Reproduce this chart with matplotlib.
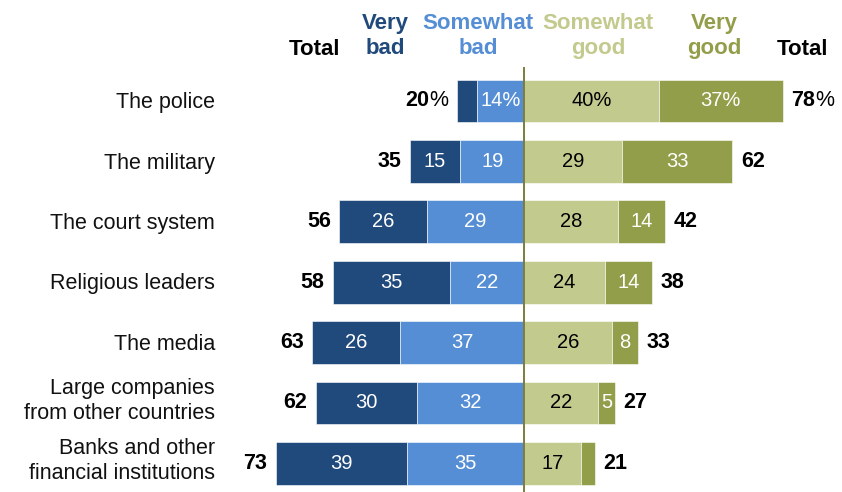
import matplotlib.pyplot as plt
import numpy as np

categories = ['The police', 'The military', 'The court system', 'Religious leaders',
              'The media', 'Large companies\nfrom other countries',
              'Banks and other\nfinancial institutions']
very_bad = [6, 15, 26, 35, 26, 30, 39]
somewhat_bad = [14, 19, 29, 22, 37, 32, 35]
somewhat_good = [40, 29, 28, 24, 26, 22, 17]
very_good = [37, 33, 14, 14, 8, 5, 4]
total_bad = [20, 35, 56, 58, 63, 62, 73]
total_good = [78, 62, 42, 38, 33, 27, 21]
# segments too thin to carry a number
hide_very_bad = [True, False, False, False, False, False, False]
hide_very_good = [False, False, False, False, False, False, True]

C_VBAD = '#214a7c'
C_SBAD = '#558ed5'
C_SGOOD = '#c3ca8e'
C_VGOOD = '#939e4a'
C_LINE = '#7b7d3c'

FONT = ['Liberation Sans', 'DejaVu Sans']

fig = plt.figure(figsize=(8.42, 4.92), dpi=100)
ax = fig.add_axes([0, 0, 1, 1])
ax.set_xlim(-156, 94.6)
ax.set_ylim(6.474, -1.672)
ax.axis('off')

y = np.arange(len(categories))
vb = np.array(very_bad)
sb = np.array(somewhat_bad)
sg = np.array(somewhat_good)
vg = np.array(very_good)
h = 0.71

ax.barh(y, -vb, left=-sb, height=h, color=C_VBAD, edgecolor='white', linewidth=0.4)
ax.barh(y, -sb, height=h, color=C_SBAD, edgecolor='white', linewidth=0.4)
ax.barh(y, sg, height=h, color=C_SGOOD, edgecolor='white', linewidth=0.4)
ax.barh(y, vg, left=sg, height=h, color=C_VGOOD, edgecolor='white', linewidth=0.4)
ax.plot([0, 0], [-0.55, 6.474], color=C_LINE, lw=1.4, zorder=5)

fs_in = 14.5
for i in y:
    pct = '%' if i == 0 else ''
    if not hide_very_bad[i]:
        ax.text(-sb[i] - vb[i] / 2, i, f'{vb[i]}{pct}', ha='center', va='center',
                color='white', fontsize=fs_in, family=FONT)
    ax.text(-sb[i] / 2, i, f'{sb[i]}{pct}', ha='center', va='center',
            color='white', fontsize=fs_in, family=FONT)
    ax.text(sg[i] / 2, i, f'{sg[i]}{pct}', ha='center', va='center',
            color='black', fontsize=fs_in, family=FONT)
    if not hide_very_good[i]:
        ax.text(sg[i] + vg[i] / 2, i, f'{vg[i]}{pct}', ha='center', va='center',
                color='white', fontsize=fs_in, family=FONT)
    dy = -0.04 if '\n' in categories[i] else 0.03
    ax.text(-92, i + dy, categories[i], ha='right', va='center', fontsize=15.5,
            family=FONT, color='#111111', linespacing=1.25)

# totals: bold number, plain percent sign on the first row
fs_tot = 15.5
renderer = fig.canvas.get_renderer()
for i in y:
    left_end = -(vb[i] + sb[i])
    right_end = sg[i] + vg[i]
    if i == 0:
        p = ax.annotate('%', (left_end, i), xytext=(-6, 0), textcoords='offset points',
                        ha='right', va='center', fontsize=fs_tot, family=FONT)
        w = p.get_window_extent(renderer).width * 72 / fig.dpi
        ax.annotate(str(total_bad[i]), (left_end, i), xytext=(-6 - w, 0),
                    textcoords='offset points', ha='right', va='center',
                    fontsize=fs_tot, fontweight='bold', family=FONT)
        n = ax.annotate(str(total_good[i]), (right_end, i), xytext=(6, 0),
                        textcoords='offset points', ha='left', va='center',
                        fontsize=fs_tot, fontweight='bold', family=FONT)
        w = n.get_window_extent(renderer).width * 72 / fig.dpi
        ax.annotate('%', (right_end, i), xytext=(6 + w, 0), textcoords='offset points',
                    ha='left', va='center', fontsize=fs_tot, family=FONT)
    else:
        ax.annotate(str(total_bad[i]), (left_end, i), xytext=(-6, 0),
                    textcoords='offset points', ha='right', va='center',
                    fontsize=fs_tot, fontweight='bold', family=FONT)
        ax.annotate(str(total_good[i]), (right_end, i), xytext=(6, 0),
                    textcoords='offset points', ha='left', va='center',
                    fontsize=fs_tot, fontweight='bold', family=FONT)

# column headers
hy = -1.076
hdr = dict(ha='center', va='center', fontsize=16, fontweight='bold',
           family=FONT, linespacing=1.2)
ax.text(-62.5, -0.86, 'Total', color='black', **hdr)
ax.text(-41.4, hy, 'Very\nbad', color=C_VBAD, **hdr)
ax.text(-13.7, hy, 'Somewhat\nbad', color=C_SBAD, **hdr)
ax.text(22.0, hy, 'Somewhat\ngood', color=C_SGOOD, **hdr)
ax.text(56.5, hy, 'Very\ngood', color=C_VGOOD, **hdr)
ax.text(82.7, -0.86, 'Total', color='black', **hdr)

fig.savefig('out.png', dpi=100)
